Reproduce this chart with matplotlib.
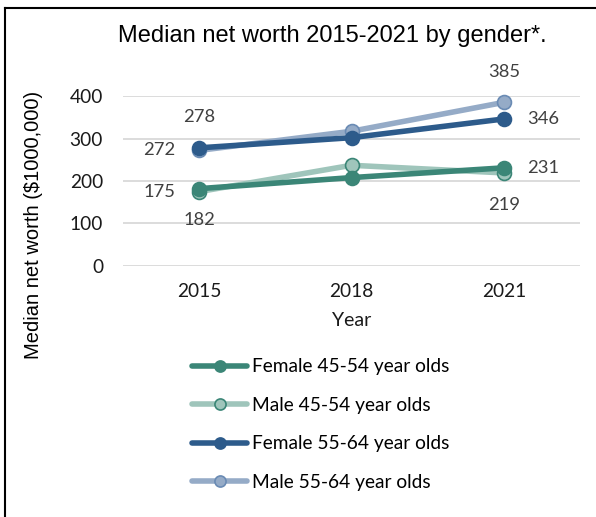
import matplotlib.pyplot as plt
from matplotlib.lines import Line2D

# Median net worth ($1000,000) by year
years = ['2015', '2018', '2021']
female_45_54 = [182, 208, 231]
male_45_54 = [175, 237, 219]
female_55_64 = [278, 302, 346]
male_55_64 = [272, 317, 385]

series_names = ['Female 45-54 year olds', 'Male 45-54 year olds',
                'Female 55-64 year olds', 'Male 55-64 year olds']

# (line colour, marker face, marker edge, zorder)
estilos = {
    'Female 45-54 year olds': ('#3b8677', '#3b8677', '#3b8677', 4),
    'Male 45-54 year olds': ('#9fc5bb', '#9fc5bb', '#3b8677', 3),
    'Female 55-64 year olds': ('#2d5b8b', '#2d5b8b', '#2d5b8b', 4),
    'Male 55-64 year olds': ('#95abc7', '#95abc7', '#6a8bb4', 3),
}
valores = {
    'Female 45-54 year olds': female_45_54,
    'Male 45-54 year olds': male_45_54,
    'Female 55-64 year olds': female_55_64,
    'Male 55-64 year olds': male_55_64,
}

# which points carry a label and where it sits (pixels from the marker)
etiquetas = [
    ('Female 45-54 year olds', 0, (0, -31)),
    ('Male 45-54 year olds', 0, (-40, 0)),
    ('Female 55-64 year olds', 0, (0, 31)),
    ('Male 55-64 year olds', 0, (-40, 0)),
    ('Female 45-54 year olds', 2, (39, 0)),
    ('Male 45-54 year olds', 2, (0, -32)),
    ('Female 55-64 year olds', 2, (39, 0)),
    ('Male 55-64 year olds', 2, (0, 30)),
]

fuente = 'Lato'
fig = plt.figure(figsize=(5.96, 5.17), dpi=100)
ax = fig.add_axes([0.2064, 0.4855, 0.7668, 0.3288])

x = range(len(years))
for nombre in series_names:
    color, cara, borde, z = estilos[nombre]
    ax.plot(x, valores[nombre], color=color, linewidth=4, marker='o',
            markersize=10, markerfacecolor=cara, markeredgecolor=borde,
            markeredgewidth=1.2, zorder=z, clip_on=False,
            solid_capstyle='round')

for nombre, i, off in etiquetas:
    v = valores[nombre][i]
    ax.annotate(str(v), (i, v), xytext=off, textcoords='offset pixels',
                ha='center', va='center', fontsize=13.2, color='#404040',
                family=fuente)

ax.set_xlim(-0.5, 2.5)
ax.set_ylim(0, 400)
ax.set_yticks([0, 100, 200, 300, 400])
ax.set_xticks(list(x))
ax.set_xticklabels(years)
for t in ax.get_xticklabels() + ax.get_yticklabels():
    t.set_fontfamily(fuente)
    t.set_fontsize(13.8)
    t.set_color('#1a1a1a')
ax.tick_params(length=0)
ax.tick_params(axis='x', pad=12)
ax.tick_params(axis='y', pad=14.4)
ax.grid(axis='y', color='#d9d9d9', linewidth=1.3)
ax.set_axisbelow(True)
for s in ax.spines.values():
    s.set_visible(False)

ax.set_xlabel('Year', family=fuente, fontsize=14, labelpad=9,
              color='#1a1a1a')
fig.text(0.057, 0.565, 'Median net worth ($1000,000)', rotation=90,
         ha='center', va='center', family='Liberation Sans', fontsize=14.5)
fig.text(0.558, 0.930, 'Median net worth 2015-2021 by gender*.',
         ha='center', va='center', family='Liberation Sans', fontsize=17)

# legend
handles = []
for nombre in series_names:
    color, cara, borde, z = estilos[nombre]
    handles.append(Line2D([], [], color=color, linewidth=4, marker='o',
                          markersize=8, markerfacecolor=cara,
                          markeredgecolor=borde, markeredgewidth=1.2,
                          solid_capstyle='round'))
fig.legend(handles, series_names, loc='upper left',
           bbox_to_anchor=(0.294, 0.340), frameon=False, handlelength=2.87,
           handletextpad=0.26, labelspacing=1.12,
           prop={'family': fuente, 'size': 13.8})

# frame around the chart
fig.add_artist(Line2D([0.0084, 0.0084], [0, 0.985], color='black',
                      linewidth=1.5, transform=fig.transFigure))
fig.add_artist(Line2D([0.0084, 1], [0.985, 0.985], color='black',
                      linewidth=1.5, transform=fig.transFigure))

fig.savefig('out.png', dpi=100)
